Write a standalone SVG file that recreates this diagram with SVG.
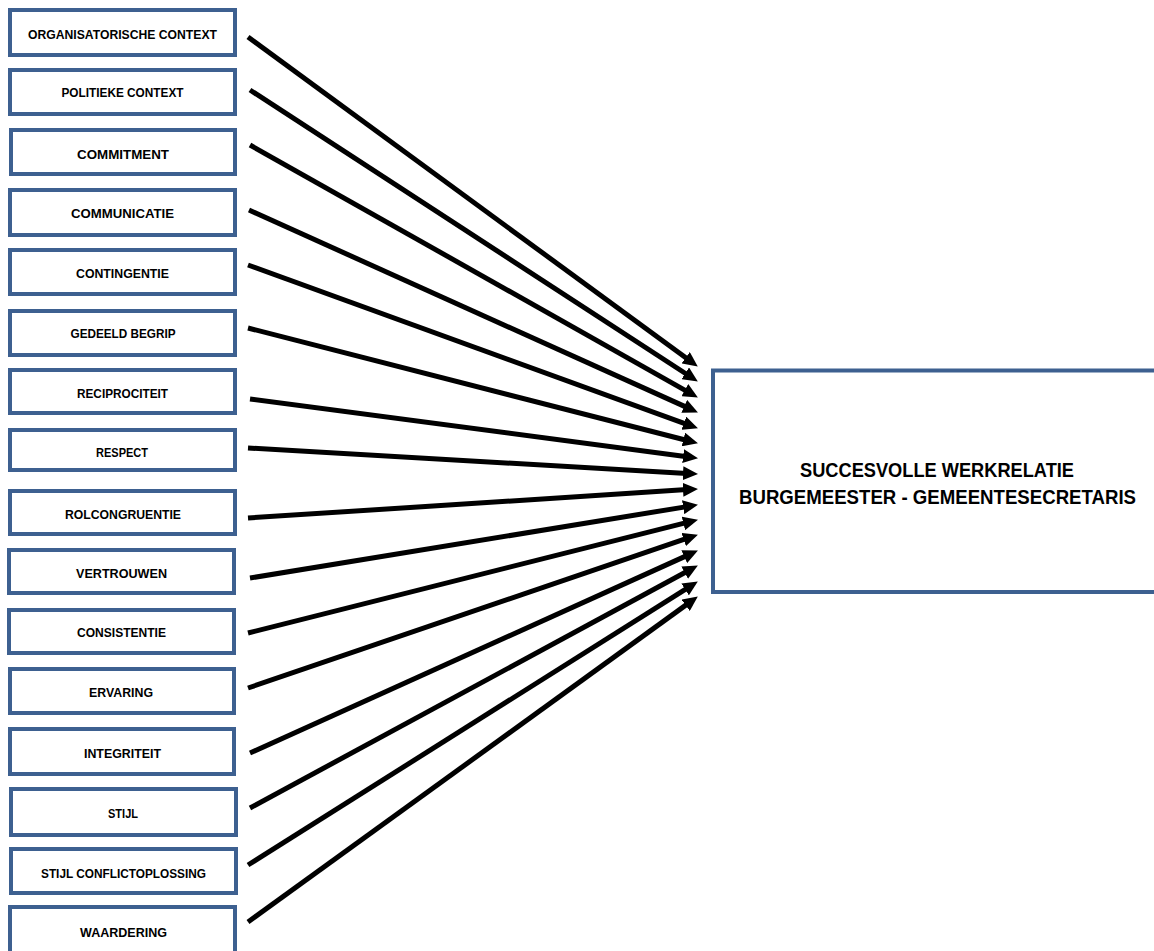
<svg xmlns="http://www.w3.org/2000/svg" width="1154" height="951" viewBox="0 0 1154 951">
<style>
.box{fill:#fff;stroke:#3D6090;stroke-width:4}
.lbl{font-family:"Liberation Sans",Arial,sans-serif;font-weight:bold;font-size:13px;fill:#000;text-anchor:middle}
.big{font-family:"Liberation Sans",Arial,sans-serif;font-weight:bold;font-size:21px;fill:#000;text-anchor:middle}
.arr{stroke:#000;stroke-width:5;fill:none;marker-end:url(#ah)}
</style>
<defs>
<marker id="ah" markerUnits="userSpaceOnUse" markerWidth="16" markerHeight="14" refX="4" refY="7" orient="auto">
<path d="M0,0 L15,7 L0,14 z" fill="#000"/>
</marker>
</defs>
<rect width="1154" height="951" fill="#fff"/>
<g id="n1"><rect class="box" x="10" y="10" width="225" height="45"/><text class="lbl" x="122.5" y="39" textLength="189" lengthAdjust="spacingAndGlyphs">ORGANISATORISCHE CONTEXT</text></g>
<g id="n2"><rect class="box" x="10" y="70" width="225" height="44"/><text class="lbl" x="122.5" y="97" textLength="122" lengthAdjust="spacingAndGlyphs">POLITIEKE CONTEXT</text></g>
<g id="n3"><rect class="box" x="11" y="130" width="224" height="44"/><text class="lbl" x="123" y="159" textLength="92" lengthAdjust="spacingAndGlyphs">COMMITMENT</text></g>
<g id="n4"><rect class="box" x="10" y="190" width="225" height="45"/><text class="lbl" x="122.5" y="218" textLength="103" lengthAdjust="spacingAndGlyphs">COMMUNICATIE</text></g>
<g id="n5"><rect class="box" x="10" y="250" width="225" height="44"/><text class="lbl" x="122.5" y="278" textLength="93" lengthAdjust="spacingAndGlyphs">CONTINGENTIE</text></g>
<g id="n6"><rect class="box" x="10" y="311" width="225" height="44"/><text class="lbl" x="123" y="338" textLength="105" lengthAdjust="spacingAndGlyphs">GEDEELD BEGRIP</text></g>
<g id="n7"><rect class="box" x="10" y="370" width="225" height="43"/><text class="lbl" x="122.5" y="398" textLength="91" lengthAdjust="spacingAndGlyphs">RECIPROCITEIT</text></g>
<g id="n8"><rect class="box" x="10" y="430" width="225" height="40"/><text class="lbl" x="122" y="457" textLength="52" lengthAdjust="spacingAndGlyphs">RESPECT</text></g>
<g id="n9"><rect class="box" x="10" y="491" width="225" height="43"/><text class="lbl" x="123" y="519" textLength="116" lengthAdjust="spacingAndGlyphs">ROLCONGRUENTIE</text></g>
<g id="n10"><rect class="box" x="9" y="550" width="225" height="43"/><text class="lbl" x="121.5" y="578" textLength="91" lengthAdjust="spacingAndGlyphs">VERTROUWEN</text></g>
<g id="n11"><rect class="box" x="9" y="610" width="225" height="43"/><text class="lbl" x="121.5" y="637" textLength="89" lengthAdjust="spacingAndGlyphs">CONSISTENTIE</text></g>
<g id="n12"><rect class="box" x="10" y="669" width="224" height="44"/><text class="lbl" x="121" y="697" textLength="64" lengthAdjust="spacingAndGlyphs">ERVARING</text></g>
<g id="n13"><rect class="box" x="10" y="729" width="224" height="45"/><text class="lbl" x="122.5" y="758" textLength="77" lengthAdjust="spacingAndGlyphs">INTEGRITEIT</text></g>
<g id="n14"><rect class="box" x="11" y="789" width="225" height="46"/><text class="lbl" x="123" y="818" textLength="30" lengthAdjust="spacingAndGlyphs">STIJL</text></g>
<g id="n15"><rect class="box" x="11" y="849" width="225" height="44"/><text class="lbl" x="123.5" y="878" textLength="165" lengthAdjust="spacingAndGlyphs">STIJL CONFLICTOPLOSSING</text></g>
<g id="n16"><rect class="box" x="10" y="907" width="225" height="50"/><text class="lbl" x="123.5" y="937" textLength="87" lengthAdjust="spacingAndGlyphs">WAARDERING</text></g>
<g id="target"><rect class="box" x="713" y="370.5" width="460" height="221.5"/>
<text class="big" x="937" y="477" textLength="274" lengthAdjust="spacingAndGlyphs">SUCCESVOLLE WERKRELATIE</text>
<text class="big" x="937.5" y="504" textLength="397" lengthAdjust="spacingAndGlyphs">BURGEMEESTER - GEMEENTESECRETARIS</text></g>
<g id="connectors">
<line class="arr" x1="248" y1="37" x2="688.9" y2="360.1"/>
<line class="arr" x1="250" y1="90" x2="688.6" y2="375.5"/>
<line class="arr" x1="250" y1="145" x2="688.3" y2="392.1"/>
<line class="arr" x1="249" y1="210" x2="687.9" y2="407.9"/>
<line class="arr" x1="248" y1="265" x2="687.6" y2="424.6"/>
<line class="arr" x1="248" y1="328" x2="687.3" y2="440.5"/>
<line class="arr" x1="250" y1="399" x2="687.1" y2="456.7"/>
<line class="arr" x1="248" y1="448" x2="687.0" y2="473.4"/>
<line class="arr" x1="248" y1="518" x2="687.0" y2="489.6"/>
<line class="arr" x1="250" y1="578" x2="687.1" y2="506.6"/>
<line class="arr" x1="248" y1="633" x2="687.3" y2="522.4"/>
<line class="arr" x1="248" y1="688" x2="687.5" y2="538.2"/>
<line class="arr" x1="250" y1="753" x2="687.9" y2="555.1"/>
<line class="arr" x1="250" y1="808" x2="688.2" y2="570.8"/>
<line class="arr" x1="248" y1="865" x2="688.5" y2="587.3"/>
<line class="arr" x1="248" y1="922" x2="688.9" y2="602.9"/>
</g>
</svg>
